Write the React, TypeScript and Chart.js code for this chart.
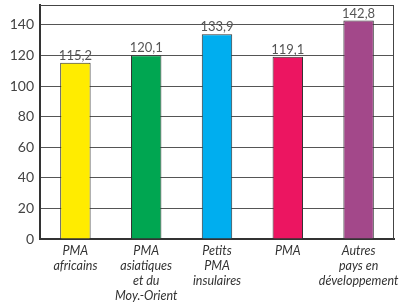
import React, { useEffect, useRef } from "react";
import { Chart, registerables } from "chart.js";

Chart.register(...registerables);

const categories: string[][] = [
  ["PMA", "africains"],
  ["PMA", "asiatiques", "et du", "Moy.-Orient"],
  ["Petits", "PMA", "insulaires"],
  ["PMA"],
  ["Autres", "pays en", "développement"],
];
const values: number[] = [115.2, 120.1, 133.9, 119.1, 142.8];
const barColors: string[] = ["#FFEC00", "#00A651", "#00AEEF", "#EC1561", "#A3488A"];
const yMin = 0;
const yMax = 153;
const yStep = 20;

const FONT = "Lato, 'Open Sans', sans-serif";

const valueLabels = {
  id: "valueLabels",
  afterDatasetsDraw(chart: any) {
    const ctx = chart.ctx;
    const meta = chart.getDatasetMeta(0);
    ctx.save();
    ctx.font = `13px ${FONT}`;
    ctx.fillStyle = "#555";
    ctx.textAlign = "center";
    ctx.textBaseline = "alphabetic";
    meta.data.forEach((bar: any, i: number) => {
      const txt = values[i].toFixed(1).replace(".", ",");
      ctx.fillText(txt, bar.x, bar.y - 3);
    });
    ctx.restore();
  },
};

const frame = {
  id: "frame",
  beforeDatasetsDraw(chart: any) {
    const { ctx, chartArea } = chart;
    ctx.save();
    ctx.strokeStyle = "#444";
    ctx.lineWidth = 1;
    ctx.beginPath();
    ctx.moveTo(chartArea.left, chartArea.top + 0.5);
    ctx.lineTo(chartArea.right - 0.5, chartArea.top + 0.5);
    ctx.lineTo(chartArea.right - 0.5, chartArea.bottom);
    ctx.stroke();
    ctx.restore();
  },
};

export default function App() {
  const ref = useRef<HTMLCanvasElement | null>(null);
  useEffect(() => {
    if (!ref.current) return;
    const chart = new Chart(ref.current, {
      type: "bar",
      data: {
        labels: categories,
        datasets: [
          {
            data: values,
            backgroundColor: barColors,
            borderColor: "#333",
            borderWidth: 1,
            barPercentage: 0.43,
            categoryPercentage: 1,
          },
        ],
      },
      options: {
        animation: false,
        responsive: false,
        maintainAspectRatio: false,
        layout: { padding: { top: 5, right: 14, left: 0, bottom: 0 } },
        plugins: {
          legend: { display: false },
          tooltip: { enabled: false },
        },
        scales: {
          x: {
            grid: { display: false, drawTicks: false },
            border: { display: true, color: "#333", width: 2 },
            ticks: {
              color: "#333",
              padding: 4,
              maxRotation: 0,
              autoSkip: false,
              font: { family: FONT, size: 12.5, style: "italic", lineHeight: 1.2 },
            },
            afterFit(scale: any) {
              scale.height = 63;
              scale.paddingLeft = 0;
              scale.paddingRight = 0;
            },
          },
          y: {
            min: yMin,
            max: yMax,
            grid: { color: "#555", lineWidth: 1, drawTicks: false },
            border: { display: true, color: "#333", width: 2 },
            ticks: {
              stepSize: yStep,
              color: "#444",
              padding: 6,
              font: { family: FONT, size: 14 },
              callback: (v: any) => (Number(v) % yStep === 0 ? String(v) : ""),
            },
            afterFit(scale: any) {
              scale.width = 40;
              scale.paddingTop = 0;
              scale.paddingBottom = 0;
            },
          },
        },
      },
      plugins: [valueLabels, frame],
    });
    return () => chart.destroy();
  }, []);
  return (
    <div style={{ position: "fixed", left: 0, top: 0, width: 408, height: 302, background: "#fff" }}>
      <canvas ref={ref} width={408} height={302} style={{ display: "block" }} />
    </div>
  );
}
